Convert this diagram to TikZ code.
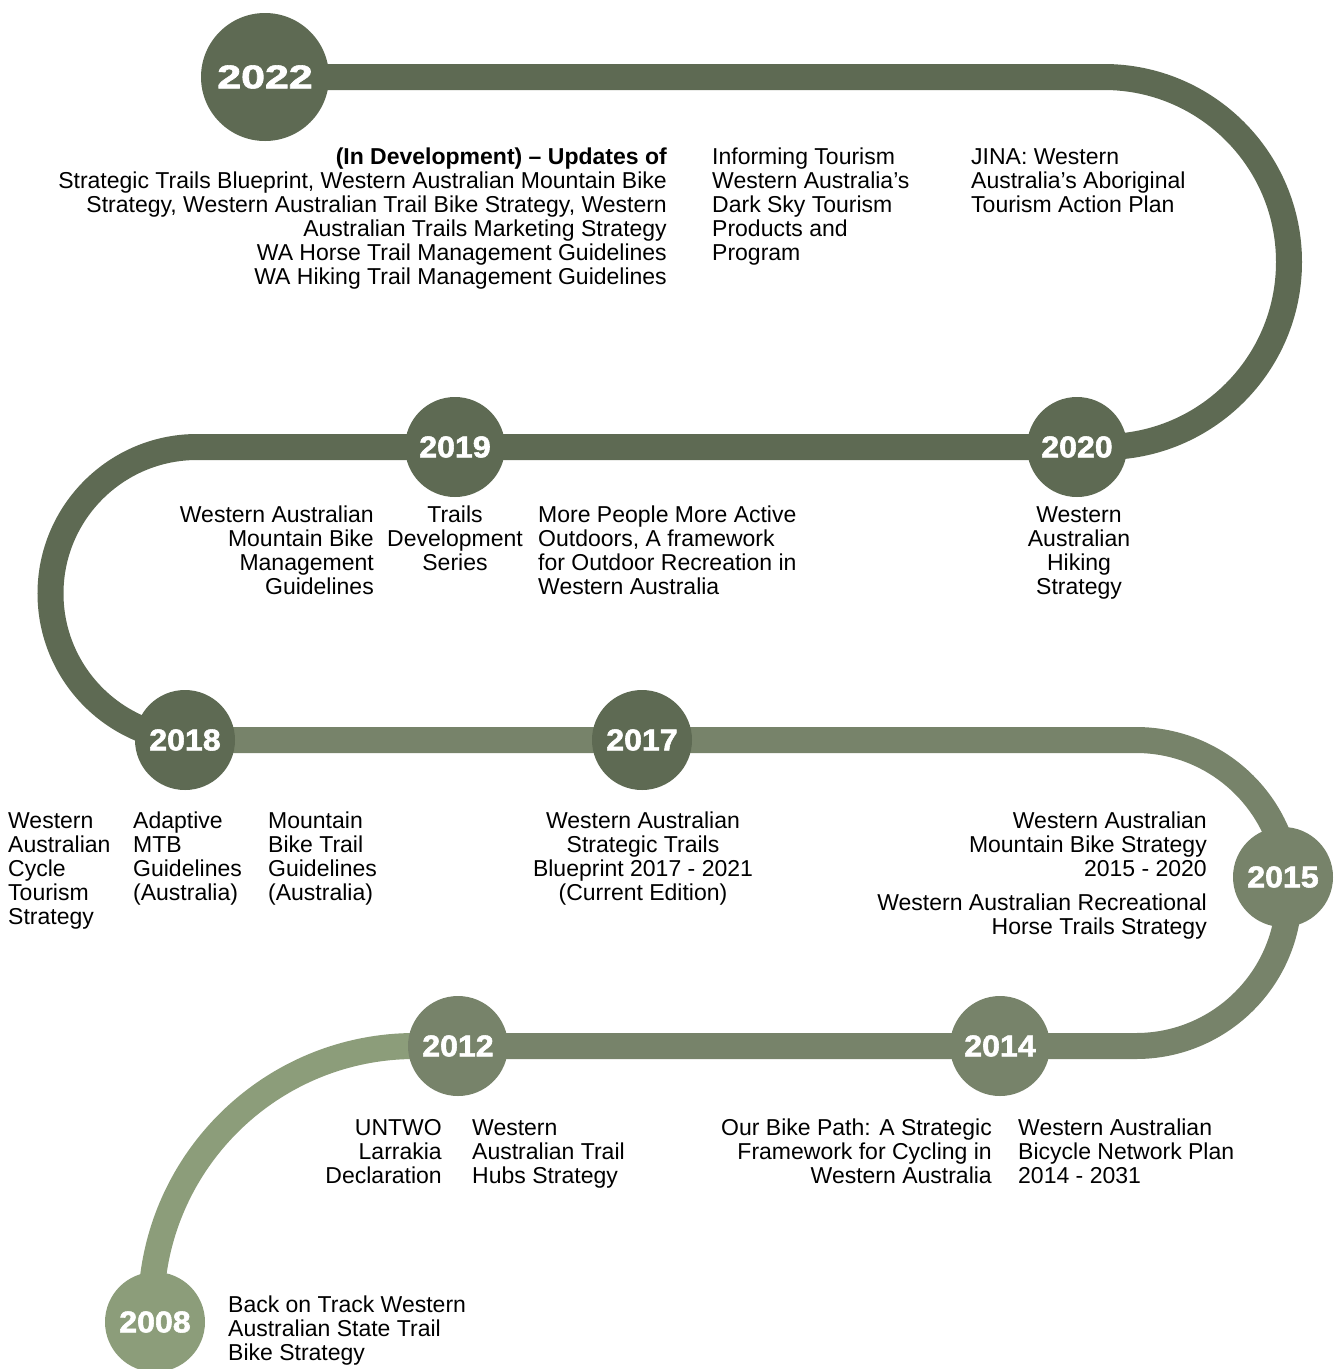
\documentclass[tikz,border=0pt]{standalone}
\usepackage{fontspec}
\setmainfont{Liberation Sans}
\newfontfamily\yearfont[FakeBold=1.8]{Liberation Sans}
\definecolor{dark}{RGB}{94,106,83}
\definecolor{medium}{RGB}{119,131,106}
\definecolor{light}{RGB}{140,157,122}
\newcommand{\yrtext}[1]{\scalebox{1.07}[1]{#1}}
\begin{document}
\begin{tikzpicture}[x=1pt,y=-1pt,
  road/.style={line width=26pt},
  yr/.style={circle, minimum size=100pt, inner sep=0pt, text=white,
    font=\yearfont\bfseries\fontsize{30}{30}\selectfont},
  txt/.style={inner sep=0pt, text=black, font=\fontsize{23}{24}\selectfont}]
\useasboundingbox (0,0) rectangle (1344,1369);
% anchor points
\coordinate (c2022) at (265,77);
\coordinate (c2020) at (1077,447);
\coordinate (c2019) at (455,447);
\coordinate (c2018) at (185,740);
\coordinate (c2017) at (642,740);
\coordinate (c2015) at (1283,877);
\coordinate (c2014) at (1000,1046);
\coordinate (c2012) at (458,1046);
\coordinate (c2008) at (155,1322);
\coordinate (tr) at (1104,77);
\coordinate (ml) at (197,447);
\coordinate (mr) at (1136,740);
\coordinate (bl) at (415,1046);
% road
\draw[road, medium] (c2018) -- (mr) arc[start angle=-90, end angle=90, radius=153] -- (c2012);
\draw[road, light] (c2012) -- (bl) arc[start angle=-90, end angle=-180, radius=264] -- (c2008);
\draw[road, dark] (c2022) -- (tr) arc[start angle=-90, end angle=90, radius=185] -- (c2019) -- (ml) arc[start angle=-90, end angle=-270, radius=146.5];
% year circles
\node[yr, fill=dark, minimum size=128pt, font=\yearfont\bfseries\fontsize{33}{33}\selectfont] (y2022) at (c2022) {\scalebox{1.3}[1]{2022}};
\node[yr, fill=dark] (y2020) at (c2020) {\yrtext{2020}};
\node[yr, fill=dark] (y2019) at (c2019) {\yrtext{2019}};
\node[yr, fill=dark] (y2018) at (c2018) {\yrtext{2018}};
\node[yr, fill=dark] (y2017) at (c2017) {\yrtext{2017}};
\node[yr, fill=medium] (y2015) at (c2015) {\yrtext{2015}};
\node[yr, fill=medium] (y2014) at (c2014) {\yrtext{2014}};
\node[yr, fill=medium] (y2012) at (c2012) {\yrtext{2012}};
\node[yr, fill=light] (y2008) at (c2008) {\yrtext{2008}};
% texts
\node[txt, anchor=north east, align=right] (tA) at (667,148) {\textbf{(In Development) – Updates of}\\Strategic Trails Blueprint, Western Australian Mountain Bike\\Strategy, Western Australian Trail Bike Strategy, Western\\Australian Trails Marketing Strategy\\WA Horse Trail Management Guidelines\\WA Hiking Trail Management Guidelines};
\node[txt, anchor=north west, align=left] (tB) at (712,148) {Informing Tourism\\Western Australia’s\\Dark Sky Tourism\\Products and\\Program};
\node[txt, anchor=north west, align=left] (tC) at (971,148) {JINA: Western\\Australia’s Aboriginal\\Tourism Action Plan};
\node[txt, anchor=north east, align=right] (tD) at (374,506) {Western Australian\\Mountain Bike\\Management\\Guidelines};
\node[txt, anchor=north, align=center] (tE) at (455,506) {Trails\\Development\\Series};
\node[txt, anchor=north west, align=left] (tF) at (538,506) {More People More Active\\Outdoors, A framework\\for Outdoor Recreation in\\Western Australia};
\node[txt, anchor=north, align=center] (tG) at (1079,506) {Western\\Australian\\Hiking\\Strategy};
\node[txt, anchor=north west, align=left] (tH) at (8,812) {Western\\Australian\\Cycle\\Tourism\\Strategy};
\node[txt, anchor=north west, align=left] (tI) at (133,812) {Adaptive\\MTB\\Guidelines\\(Australia)};
\node[txt, anchor=north west, align=left] (tJ) at (268,812) {Mountain\\Bike Trail\\Guidelines\\(Australia)};
\node[txt, anchor=north, align=center] (tK) at (643,812) {Western Australian\\Strategic Trails\\Blueprint 2017 - 2021\\(Current Edition)};
\node[txt, anchor=north east, align=right] (tL) at (1207,812) {Western Australian\\Mountain Bike Strategy\\2015 - 2020};
\node[txt, anchor=north east, align=right] (tM) at (1207,894) {Western Australian Recreational\\Horse Trails Strategy};
\node[txt, anchor=north east, align=right] (tN) at (442,1119) {UNTWO\\Larrakia\\Declaration};
\node[txt, anchor=north west, align=left] (tO) at (472,1119) {Western\\Australian Trail\\Hubs Strategy};
\node[txt, anchor=north east, align=right] (tP) at (992,1119) {Our Bike Path: A Strategic\\Framework for Cycling in\\Western Australia};
\node[txt, anchor=north west, align=left] (tQ) at (1018,1119) {Western Australian\\Bicycle Network Plan\\2014 - 2031};
\node[txt, anchor=north west, align=left] (tR) at (228,1296) {Back on Track Western\\Australian State Trail\\Bike Strategy};
\end{tikzpicture}
\end{document}
